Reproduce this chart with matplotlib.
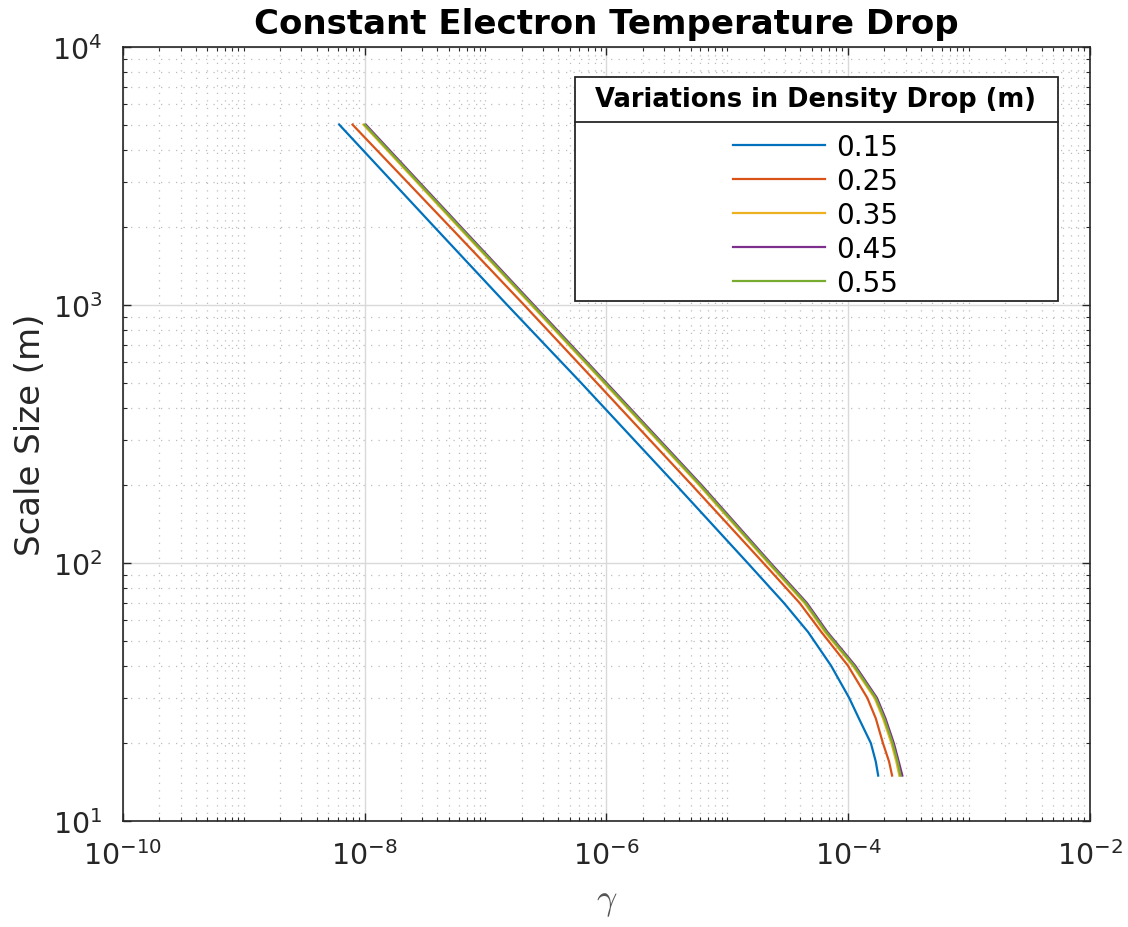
import numpy as np
import matplotlib
matplotlib.use("Agg")
from matplotlib import pyplot as plt
from matplotlib.ticker import LogLocator, NullFormatter
from matplotlib.patches import Rectangle

# scale size (m) sampled along each curve
scale_size = [5000, 2000, 1000, 500, 200, 100, 70, 54, 40, 30, 25, 20, 17, 15]

# log10(gamma), one list per density drop
log_gamma_015 = [-8.21, -7.42, -6.82, -6.21, -5.42, -4.83, -4.53, -4.33, -4.14, -3.99, -3.91, -3.81, -3.77, -3.75]
log_gamma_025 = [-8.10, -7.29, -6.68, -6.08, -5.29, -4.70, -4.40, -4.22, -4.00, -3.84, -3.77, -3.71, -3.66, -3.635]
log_gamma_035 = [-8.01, -7.22, -6.62, -6.02, -5.23, -4.66, -4.36, -4.19, -3.96, -3.78, -3.71, -3.64, -3.60, -3.575]
log_gamma_045 = [-7.99, -7.20, -6.60, -6.00, -5.21, -4.64, -4.34, -4.17, -3.94, -3.76, -3.69, -3.62, -3.58, -3.55]
log_gamma_055 = [-8.00, -7.21, -6.61, -6.01, -5.22, -4.65, -4.35, -4.18, -3.95, -3.77, -3.70, -3.63, -3.59, -3.565]

drop_labels = ['0.15', '0.25', '0.35', '0.45', '0.55']
series = [log_gamma_015, log_gamma_025, log_gamma_035, log_gamma_045, log_gamma_055]
colors = ['#0072BD', '#D95319', '#EDB120', '#7E2F8E', '#77AC30']

plt.rcParams['font.family'] = ['DejaVu Sans']
plt.rcParams['mathtext.fontset'] = 'cm'

fig = plt.figure(figsize=(11.28, 9.28), dpi=100)
ax = fig.add_axes([0.109, 0.1142, 0.857, 0.8341])

for lg, lab, c in zip(series, drop_labels, colors):
    ax.plot(10.0 ** np.array(lg), scale_size, color=c, lw=1.6, label=lab)

ax.set_xscale('log')
ax.set_yscale('log')
ax.set_xlim(1e-10, 1e-2)
ax.set_ylim(10, 1e4)
ax.set_xticks([1e-10, 1e-8, 1e-6, 1e-4, 1e-2])
ax.xaxis.set_minor_locator(LogLocator(base=10, subs=np.arange(1, 10), numticks=50))
ax.yaxis.set_minor_locator(LogLocator(base=10, subs=np.arange(2, 10), numticks=50))
ax.xaxis.set_minor_formatter(NullFormatter())
ax.yaxis.set_minor_formatter(NullFormatter())

ax.grid(True, which='major', color='#d9d9d9', lw=1.0)
ax.grid(True, which='minor', color='#bdbdbd', ls=(0, (1, 5)), lw=0.9)
ax.set_axisbelow(True)

ax.tick_params(which='both', direction='in', top=True, right=True, colors='#262626', labelsize=20.5)
ax.tick_params(which='major', length=6, width=1.0)
ax.tick_params(which='minor', length=3, width=0.8)
ax.tick_params(axis='x', pad=14)
ax.tick_params(axis='y', pad=15)
for s in ax.spines.values():
    s.set_color('#262626')
    s.set_linewidth(1.2)

ax.set_title('Constant Electron Temperature Drop', fontsize=24.5, fontweight='bold', pad=10)
ax.set_ylabel('Scale Size (m)', fontsize=24.5, color='#262626', labelpad=4)
ax.set_xlabel(r'$\gamma$', fontsize=26, color='#555555', labelpad=10)

# legend box: frame, bold title with rule under it, then the entries
ax.add_patch(Rectangle((0.4674, 0.6718), 0.4995, 0.2894, transform=ax.transAxes,
                       facecolor='white', edgecolor='#262626', lw=1.3, zorder=4))
ax.plot([0.4674, 0.9669], [0.9031, 0.9031], transform=ax.transAxes,
        color='#262626', lw=1.3, zorder=5)
ax.text(0.7167, 0.9325, 'Variations in Density Drop (m)', transform=ax.transAxes,
        ha='center', va='center', fontsize=18.5, fontweight='bold', zorder=6)
leg = ax.legend(loc='center', bbox_to_anchor=(0.7167, 0.783), fontsize=20,
                handlelength=3.3, labelspacing=0.22, handletextpad=0.4,
                borderpad=0, frameon=False)
leg.set_zorder(6)

fig.savefig('out.png', dpi=100)
